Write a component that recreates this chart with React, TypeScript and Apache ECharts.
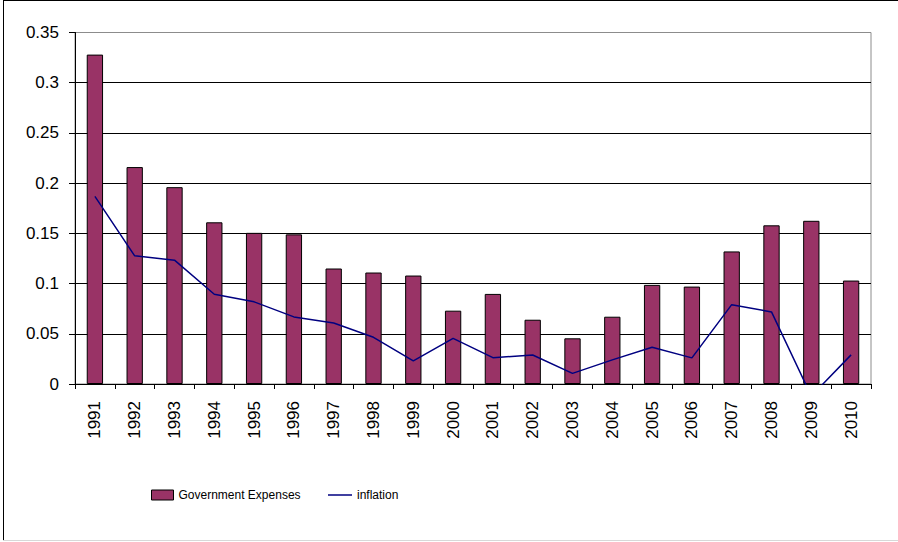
import React, { useEffect, useRef } from "react";
import * as echarts from "echarts";

const years = ["1991","1992","1993","1994","1995","1996","1997","1998","1999","2000","2001","2002","2003","2004","2005","2006","2007","2008","2009","2010"];
const govExpenses = [0.328,0.216,0.196,0.161,0.1505,0.149,0.115,0.111,0.108,0.073,0.0897,0.064,0.0455,0.067,0.0987,0.097,0.132,0.158,0.1625,0.103];
const inflation = [0.1868,0.1276,0.1233,0.0894,0.0818,0.0668,0.0608,0.0465,0.023,0.0455,0.0262,0.0289,0.0106,0.024,0.0366,0.026,0.079,0.0718,-0.012,0.029];
const yTicks = { min: 0, max: 0.35, interval: 0.05 };

export default function App() {
  const ref = useRef<HTMLDivElement>(null);
  useEffect(() => {
    if (!ref.current) return;
    const chart = echarts.init(ref.current, null, { renderer: "svg" });
    const legendText = { fontFamily: "'Liberation Sans', Arial, sans-serif", fontSize: 12, color: "#000" };
    chart.setOption({
      animation: false,
      backgroundColor: "#ffffff",
      textStyle: { fontFamily: "'Liberation Sans', Arial, sans-serif" },
      grid: {
        left: 75, right: 27, top: 32.5, bottom: 158,
        show: true, borderColor: "#8c8c8c", borderWidth: 1, backgroundColor: "transparent",
      },
      graphic: [
        { type: "line", shape: { x1: 3, y1: 0.5, x2: 898, y2: 0.5 }, style: { stroke: "#000", lineWidth: 1 } },
        { type: "line", shape: { x1: 3.5, y1: 0, x2: 3.5, y2: 541 }, style: { stroke: "#000", lineWidth: 1 } },
        { type: "line", shape: { x1: 3, y1: 540.5, x2: 898, y2: 540.5 }, style: { stroke: "#d8d8d8", lineWidth: 1 } },
      ],
      legend: [
        {
          left: 151, top: 489, padding: 0, itemWidth: 22, itemHeight: 10, itemGap: 10,
          textStyle: legendText,
          data: [{ name: "Government Expenses", icon: "rect", itemStyle: { color: "#993366", borderColor: "#000", borderWidth: 1 } }],
        },
        {
          left: 328, top: 489, padding: 0, itemWidth: 24, itemHeight: 10, itemGap: 10,
          textStyle: legendText,
          symbolKeepAspect: true,
          data: [{ name: "inflation", icon: "path://M0,0H24V1.5H0Z", itemStyle: { color: "#000080", borderWidth: 0 } }],
        },
      ],
      xAxis: {
        type: "category",
        data: years,
        boundaryGap: true,
        axisLine: { show: true, lineStyle: { color: "#000", width: 1 } },
        axisTick: { show: true, length: 5, alignWithLabel: false, lineStyle: { color: "#000" } },
        axisLabel: { rotate: 90, margin: 17, fontSize: 17, color: "#000", interval: 0 },
        splitLine: { show: false },
      },
      yAxis: {
        type: "value",
        min: yTicks.min, max: yTicks.max, interval: yTicks.interval,
        axisLine: { show: true, lineStyle: { color: "#000", width: 1 } },
        axisTick: { show: true, length: 6, lineStyle: { color: "#000" } },
        axisLabel: { margin: 16, fontSize: 17, color: "#000", formatter: (v: number) => String(parseFloat(v.toFixed(2))) },
        splitLine: { show: true, lineStyle: { color: ["#000", "#000", "#000", "#000", "#000", "#000", "#000", "#8c8c8c"], width: 1 } },
      },
      series: [
        {
          name: "Government Expenses",
          type: "bar",
          data: govExpenses,
          barWidth: "41%",
          itemStyle: { color: "#993366", borderColor: "#000", borderWidth: 1 },
        },
        {
          name: "inflation",
          type: "line",
          data: inflation,
          symbol: "none",
          clip: true,
          lineStyle: { color: "#000080", width: 1.5 },
          itemStyle: { color: "#000080" },
        },
      ],
    });
    return () => chart.dispose();
  }, []);
  return <div ref={ref} style={{ position: "absolute", left: 0, top: 0, width: 898, height: 542 }} />;
}
